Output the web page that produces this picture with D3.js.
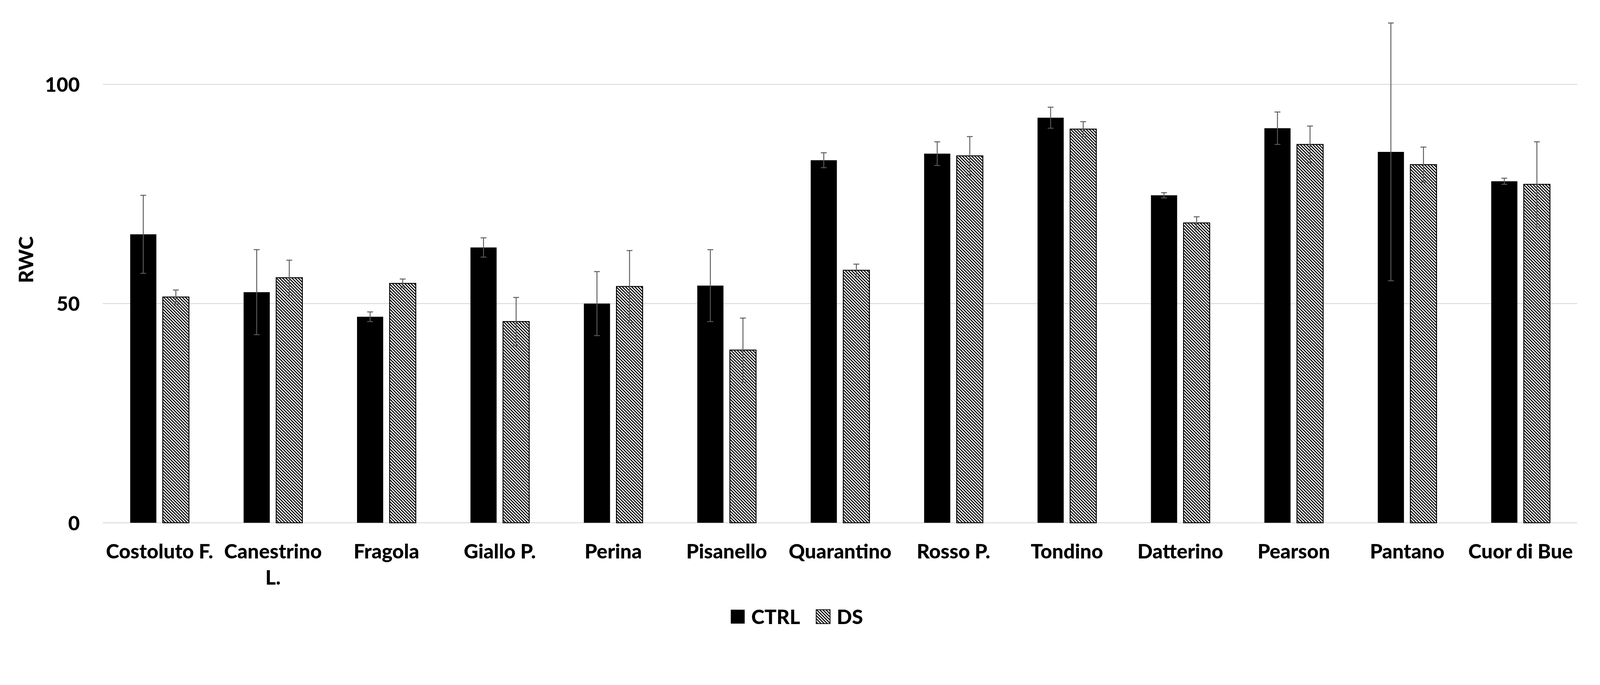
<!DOCTYPE html>
<html>
<head>
<meta charset="utf-8">
<script src="https://cdn.jsdelivr.net/npm/d3@7"></script>
<style>
	html, body { margin: 0; padding: 0; background: #fff; overflow: hidden; }
	svg { display: block; width: 100%; height: auto; }
	text { font-family: Lato, 'Open Sans', sans-serif; font-weight: 900; fill: #000; }
</style>
</head>
<body>
<div id="chart"></div>
<script>
// RWC per cultivar, CTRL vs DS

var categories = ['Costoluto F.', 'Canestrino L.', 'Fragola', 'Giallo P.', 'Perina', 'Pisanello',
	'Quarantino', 'Rosso P.', 'Tondino', 'Datterino', 'Pearson', 'Pantano', 'Cuor di Bue'];
var seriesNames = ['CTRL', 'DS'];
var ctrlValues = [65.8, 52.6, 47.0, 62.8, 50.0, 54.1, 82.7, 84.2, 92.4, 74.7, 90.0, 84.6, 77.9];
var ctrlErrors = [8.9, 9.7, 1.1, 2.2, 7.3, 8.2, 1.7, 2.7, 2.4, 0.6, 3.7, 29.4, 0.7];
var dsValues = [51.5, 55.9, 54.6, 45.9, 53.9, 39.4, 57.6, 83.7, 89.8, 68.4, 86.3, 81.7, 77.2];
var dsErrors = [1.6, 4.0, 1.0, 5.5, 8.2, 7.3, 1.4, 4.4, 1.7, 1.4, 4.2, 4.0, 9.7];
var yTicks = [0, 50, 100];
var yTitle = 'RWC';

var width = 4371,
	height = 1754,
	margin = {
		top: -9,
		bottom: 325.5,
		left: 281,
		right: 62
	},
	drawWidth = width - margin.left - margin.right,
	drawHeight = height - margin.top - margin.bottom;

// viewBox, scaled to the window width and kept at the top
var svg = d3.select('#chart').append('svg')
	.attr('viewBox', '0 0 ' + width + ' ' + height)
	.attr('preserveAspectRatio', 'xMinYMin meet');

// hatch for DS bars
var defs = svg.append('defs');
defs.append('pattern')
	.attr('id', 'hatch')
	.attr('patternUnits', 'userSpaceOnUse')
	.attr('width', 6)
	.attr('height', 6)
	.attr('patternTransform', 'rotate(45)')
	.call(function(p) {
		p.append('rect').attr('width', 6).attr('height', 6).attr('fill', '#fff');
		p.append('rect').attr('width', 6).attr('height', 2.8).attr('fill', '#000');
	});

// size the font so the labels take the same room as in the original
var probe = svg.append('text').attr('font-size', 100).text('Costoluto F.');
var fontSize = 100 * 293 / probe.node().getComputedTextLength();
probe.remove();

var g = svg.append('g')
	.attr('transform', 'translate(' + margin.left + ',' + margin.top + ')');

var xScale = d3.scaleBand()
	.domain(categories)
	.range([0, drawWidth])
	.paddingInner(0)
	.paddingOuter(0);

var half = xScale.bandwidth() * 0.259;
var xInner = d3.scaleBand()
	.domain(seriesNames)
	.range([xScale.bandwidth() / 2 - half, xScale.bandwidth() / 2 + half])
	.paddingInner(0.197);

var yScale = d3.scaleLinear()
	.domain([0, 120])
	.range([drawHeight, 0]);

// gridlines
g.selectAll('.grid')
	.data(yTicks)
	.enter().append('line')
	.attr('class', 'grid')
	.attr('x1', 0)
	.attr('x2', drawWidth)
	.attr('y1', function(d) { return yScale(d); })
	.attr('y2', function(d) { return yScale(d); })
	.attr('stroke', '#d9d9d9')
	.attr('stroke-width', 2.5);

// y axis labels
var yAxis = d3.axisLeft(yScale)
	.tickValues(yTicks)
	.tickSize(0)
	.tickPadding(63);

var yAxisLabel = g.append('g').call(yAxis);
yAxisLabel.select('.domain').remove();
yAxisLabel.selectAll('text')
	.attr('font-size', fontSize)
	.attr('font-family', null)
	.attr('dy', '0.36em');

svg.append('text')
	.attr('transform', 'translate(91,' + (margin.top + drawHeight / 2) + ') rotate(-90)')
	.attr('text-anchor', 'middle')
	.attr('font-size', fontSize)
	.text(yTitle);

var rows = categories.map(function(c, i) {
	return [
		{ cat: c, key: 'CTRL', value: ctrlValues[i], err: ctrlErrors[i] },
		{ cat: c, key: 'DS', value: dsValues[i], err: dsErrors[i] }
	];
});

var groups = g.selectAll('.group')
	.data(rows)
	.enter().append('g')
	.attr('class', 'group')
	.attr('transform', function(d) { return 'translate(' + xScale(d[0].cat) + ',0)'; });

groups.selectAll('rect')
	.data(function(d) { return d; })
	.enter().append('rect')
	.attr('x', function(d) { return xInner(d.key); })
	.attr('y', function(d) { return yScale(d.value); })
	.attr('width', xInner.bandwidth())
	.attr('height', function(d) { return yScale(0) - yScale(d.value); })
	.attr('fill', function(d) { return d.key === 'CTRL' ? '#000' : 'url(#hatch)'; })
	.attr('stroke', '#000')
	.attr('stroke-width', function(d) { return d.key === 'CTRL' ? 0 : 2.5; });

// error bars
var errs = groups.selectAll('.err')
	.data(function(d) { return d; })
	.enter().append('g')
	.attr('class', 'err')
	.attr('stroke', '#595959')
	.attr('stroke-width', 2.5)
	.attr('transform', function(d) { return 'translate(' + (xInner(d.key) + xInner.bandwidth() / 2) + ',0)'; });

errs.append('line')
	.attr('y1', function(d) { return yScale(d.value - d.err); })
	.attr('y2', function(d) { return yScale(d.value + d.err); });

errs.append('line')
	.attr('x1', -8).attr('x2', 8)
	.attr('y1', function(d) { return yScale(d.value + d.err); })
	.attr('y2', function(d) { return yScale(d.value + d.err); });

errs.append('line')
	.attr('x1', -8).attr('x2', 8)
	.attr('y1', function(d) { return yScale(d.value - d.err); })
	.attr('y2', function(d) { return yScale(d.value - d.err); });

// category labels, wrapped when wider than the band
var catLabels = g.selectAll('.cat')
	.data(categories)
	.enter().append('text')
	.attr('class', 'cat')
	.attr('font-size', fontSize)
	.attr('text-anchor', 'middle')
	.attr('x', function(d) { return xScale(d) + xScale.bandwidth() / 2; })
	.attr('y', 1526 - margin.top)
	.text(function(d) { return d; });

catLabels.each(function(d) {
	var t = d3.select(this);
	if (this.getComputedTextLength() > xScale.bandwidth() - 10) {
		var words = d.split(' ');
		var last = words.pop();
		t.text(null);
		t.append('tspan').attr('x', t.attr('x')).text(words.join(' '));
		t.append('tspan').attr('x', t.attr('x')).attr('dy', 72).text(last);
	}
});

// legend
var legend = svg.append('g');
var lx = 0;
seriesNames.forEach(function(name) {
	var item = legend.append('g').attr('transform', 'translate(' + lx + ',0)');
	item.append('rect')
		.attr('x', 0)
		.attr('y', 1666)
		.attr('width', 38)
		.attr('height', 38)
		.attr('fill', name === 'CTRL' ? '#000' : 'url(#hatch)')
		.attr('stroke', '#000')
		.attr('stroke-width', name === 'CTRL' ? 0 : 2);
	var txt = item.append('text')
		.attr('x', 56)
		.attr('y', 1705)
		.attr('font-size', fontSize)
		.text(name);
	lx += 56 + txt.node().getComputedTextLength() + 44;
});
var legendWidth = lx - 44;
legend.attr('transform', 'translate(' + (2177 - legendWidth / 2) + ',0)');
</script>
</body>
</html>
